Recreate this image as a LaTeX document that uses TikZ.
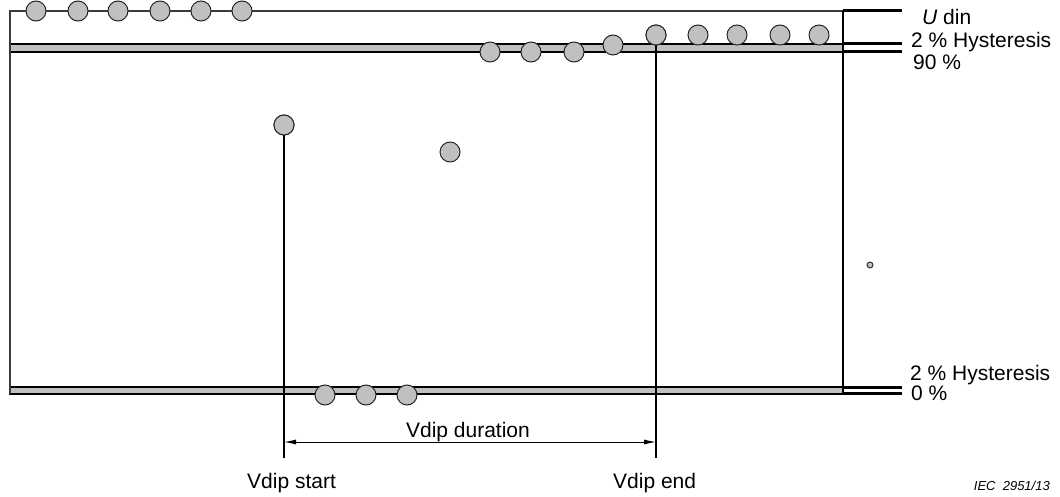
\documentclass[tikz,border=0pt]{standalone}
\usepackage{fontspec}
\setmainfont{Liberation Sans}
\usetikzlibrary{arrows.meta}
\definecolor{bandgray}{HTML}{C0C0C0}
\definecolor{linegray}{HTML}{3A3A3A}
\begin{document}
\begin{tikzpicture}[x=1pt,y=-1pt,
  dot/.style={circle,draw=black!85,fill=bandgray,line width=1pt,minimum size=20pt,inner sep=0pt},
  tinydot/.style={circle,draw=black!80,fill=bandgray,line width=1pt,minimum size=6pt,inner sep=0pt},
  band/.style={fill=bandgray,draw=black,line width=1.4pt},
  frameline/.style={draw=linegray,line width=1.5pt},
  tickline/.style={draw=black,line width=3pt},
  vline/.style={draw=black,line width=2.8pt},
  dimline/.style={draw=black,line width=1pt,{Latex[length=12pt,width=5pt]}-{Latex[length=12pt,width=5pt]}},
  lbl/.style={font=\fontsize{21}{25}\selectfont,inner sep=0pt},
  src/.style={font=\fontsize{13}{15}\selectfont\itshape,inner sep=0pt},
]
\useasboundingbox (0,0) rectangle (1060,497);
% bands
\draw[band] (10,44) rectangle (843,52);
\draw[band] (10,387) rectangle (843,394);
% frame
\draw[frameline] (10,394) -- (10,11) -- (843,11);
\draw[draw=black,line width=1.5pt] (843,11) -- (843,394);
% right ticks
\coordinate (r0a) at (843,11);  \coordinate (r0b) at (902,11);
\coordinate (r1a) at (843,44);  \coordinate (r1b) at (902,44);
\coordinate (r2a) at (843,52);  \coordinate (r2b) at (902,52);
\coordinate (r3a) at (843,387); \coordinate (r3b) at (902,387);
\coordinate (r4a) at (843,393.5); \coordinate (r4b) at (902,393.5);
\draw[tickline] (r0a) -- (r0b);
\draw[tickline] (r1a) -- (r1b);
\draw[tickline] (r2a) -- (r2b);
\draw[tickline] (r3a) -- (r3b);
\draw[tickline] (r4a) -- (r4b);
% vdip lines
\coordinate (sEnd) at (284,458);
\coordinate (eEnd) at (656,458);
\node[dot] (m1) at (284,125) {};
\node[dot] (u5) at (656,35) {};
\draw[vline] (m1.center) -- (sEnd);
\draw[vline] (u5.center) -- (eEnd);
% redraw circles on top
\node[dot] at (m1) {};
\node[dot] at (u5) {};
% top row
\node[dot] (t1) at (36,11) {};
\node[dot] (t2) at (78,11) {};
\node[dot] (t3) at (118,11) {};
\node[dot] (t4) at (160,11) {};
\node[dot] (t5) at (201,11) {};
\node[dot] (t6) at (242,11) {};
% upper band row
\node[dot] (u1) at (490,52) {};
\node[dot] (u2) at (531,52) {};
\node[dot] (u3) at (574,52) {};
\node[dot] (u4) at (613,45) {};
\node[dot] (u6) at (698,35) {};
\node[dot] (u7) at (737,35) {};
\node[dot] (u8) at (780,35) {};
\node[dot] (u9) at (819,35) {};
% middle
\node[dot] (m2) at (450,152) {};
\node[tinydot] (sm) at (870,265) {};
% bottom row
\node[dot] (b1) at (325,395) {};
\node[dot] (b2) at (366,395) {};
\node[dot] (b3) at (407,395) {};
% duration arrow
\coordinate (dA) at (284,442);
\coordinate (dB) at (656,442);
\draw[dimline] (dA) -- (dB);
% labels
\node[lbl,anchor=base west] (lu) at (922,25) {\itshape U\upshape\ din};
\node[lbl,anchor=base west] (lh1) at (911,48) {2 \% Hysteresis};
\node[lbl,anchor=base west] (l90) at (913,70) {90 \%};
\node[lbl,anchor=base west] (lh2) at (910,380) {2 \% Hysteresis};
\node[lbl,anchor=base west] (l0) at (911,400) {0 \%};
\node[lbl,anchor=base] (ldur) at (468,437) {Vdip duration};
\node[lbl,anchor=base west] (lst) at (247,488) {Vdip start};
\node[lbl,anchor=base west] (len) at (613,488) {Vdip end};
\node[src,anchor=base east] (iec) at (1050,490) {IEC\ \ 2951/13};
\end{tikzpicture}
\end{document}
